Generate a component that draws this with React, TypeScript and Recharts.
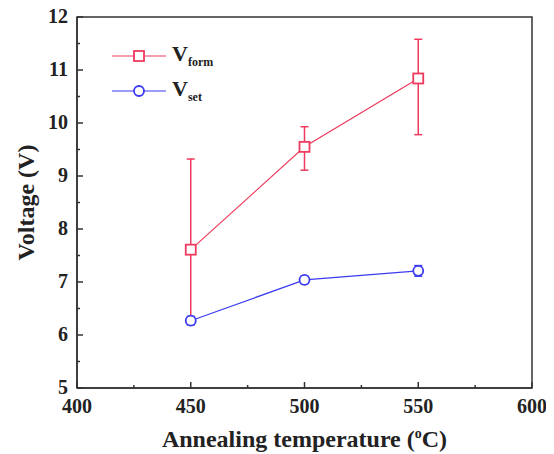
import React from 'react';
import { LineChart, Line, XAxis, YAxis, ErrorBar, Legend, ReferenceArea } from 'recharts';

const temps = [450, 500, 550];
const vform = [7.61, 9.55, 10.84];
const vformErrLow = [1.3, 0.44, 1.06];
const vformErrHigh = [1.71, 0.38, 0.74];
const vset = [6.27, 7.04, 7.21];
const vsetErr = [0.08, 0.07, 0.1];

const xTicks = [400, 425, 450, 475, 500, 525, 550, 575, 600];
const yTicks = [5, 5.5, 6, 6.5, 7, 7.5, 8, 8.5, 9, 9.5, 10, 10.5, 11, 11.5, 12];

const RED = '#ee3a5e';
const BLUE = '#3b3bef';
const FONT = '"Liberation Serif", "Times New Roman", serif';

const data = temps.map((t, i) => ({
  t,
  vform: vform[i],
  formErr: [vformErrLow[i], vformErrHigh[i]],
  vset: vset[i],
  setErr: vsetErr[i],
}));

const XTick = (p: any) => {
  const v = p.payload.value;
  const major = v % 50 === 0;
  return (
    <g>
      <line x1={p.x} y1={p.y} x2={p.x} y2={p.y - (major ? 6 : 3)} stroke="#333" strokeWidth={1.5} />
      {major && (
        <text x={p.x} y={p.y + 25} textAnchor="middle" fontFamily={FONT} fontWeight="bold" fontSize={20} fill="#222">
          {v}
        </text>
      )}
    </g>
  );
};

const YTick = (p: any) => {
  const v = p.payload.value;
  const major = Number.isInteger(v);
  return (
    <g>
      <line x1={p.x} y1={p.y} x2={p.x + (major ? 6 : 3)} y2={p.y} stroke="#333" strokeWidth={1.5} />
      {major && (
        <text x={p.x - 9} y={p.y - 1} dy="0.35em" textAnchor="end" fontFamily={FONT} fontWeight="bold" fontSize={20} fill="#222">
          {v}
        </text>
      )}
    </g>
  );
};

const Square = (p: any) => (
  <rect key={'s' + p.index} x={p.cx - 5} y={p.cy - 5} width={10} height={10} fill="#fff" stroke={RED} strokeWidth={1.8} />
);
const Circle = (p: any) => (
  <circle key={'c' + p.index} cx={p.cx} cy={p.cy} r={5} fill="#fff" stroke={BLUE} strokeWidth={1.8} />
);

const LegendBox = (props: any) => {
  const items = props.payload || [];
  return (
    <div style={{ fontFamily: FONT, fontWeight: 'bold', color: '#222' }}>
      {items.map((it: any) => {
        const [main, sub] = String(it.value).split('_');
        const isForm = sub === 'form';
        return (
          <div key={it.value} style={{ display: 'flex', alignItems: 'center', height: 35 }}>
            <svg width={54} height={14}>
              <line x1={0} y1={7} x2={54} y2={7} stroke={it.color} strokeWidth={1.2} />
              {isForm ? (
                <rect x={22} y={2} width={10} height={10} fill="#fff" stroke={it.color} strokeWidth={1.8} />
              ) : (
                <circle cx={27} cy={7} r={5} fill="#fff" stroke={it.color} strokeWidth={1.8} />
              )}
            </svg>
            <span style={{ fontSize: 22, marginLeft: 6 }}>
              {main}
              <sub style={{ fontSize: 12 }}>{sub}</sub>
            </span>
          </div>
        );
      })}
    </div>
  );
};

export default function App() {
  return (
    <div style={{ margin: '-8px 0 0 -8px' }}>
      <LineChart width={554} height={454} data={data} margin={{ top: 17, right: 22, left: 0, bottom: 0 }}>
        <ReferenceArea x1={400} x2={600} y1={5} y2={12} fill="none" stroke="#333" strokeWidth={1.5} />
        <XAxis
          dataKey="t"
          type="number"
          domain={[400, 600]}
          ticks={xTicks}
          interval={0}
          height={66}
          tickSize={0}
          tickMargin={0}
          tick={<XTick />}
          tickLine={false}
          axisLine={{ stroke: '#333', strokeWidth: 1.5 }}
          label={{
            content: (lp: any) => (
              <text x={lp.viewBox.x + lp.viewBox.width / 2} y={lp.viewBox.y + 59} textAnchor="middle" fontFamily={FONT} fontWeight="bold" fontSize={24} fill="#222">
                Annealing temperature (<tspan fontSize={14} dy={-9}>o</tspan><tspan dy={9}>C)</tspan>
              </text>
            ),
          }}
        />
        <YAxis
          type="number"
          domain={[5, 12]}
          ticks={yTicks}
          interval={0}
          width={77}
          tickSize={0}
          tickMargin={0}
          tick={<YTick />}
          tickLine={false}
          axisLine={{ stroke: '#333', strokeWidth: 1.5 }}
          label={{
            content: (lp: any) => {
              const cx = 26;
              const cy = lp.viewBox.y + lp.viewBox.height / 2;
              return (
                <text x={cx} y={cy} transform={`rotate(-90 ${cx} ${cy})`} textAnchor="middle" dy="0.35em" fontFamily={FONT} fontWeight="bold" fontSize={24} fill="#222">
                  Voltage (V)
                </text>
              );
            },
          }}
        />
        <Legend
          layout="vertical"
          align="center"
          verticalAlign="middle"
          content={<LegendBox />}
          wrapperStyle={{ position: 'absolute', left: 112, top: 38, width: 'auto', height: 'auto' }}
        />
        <Line
          dataKey="vform"
          name="V_form"
          stroke={RED}
          strokeWidth={1.2}
          dot={Square}
          activeDot={false}
          isAnimationActive={false}
        >
          <ErrorBar dataKey="formErr" width={4} stroke={RED} strokeWidth={1.5} direction="y" isAnimationActive={false} />
        </Line>
        <Line
          dataKey="vset"
          name="V_set"
          stroke={BLUE}
          strokeWidth={1.2}
          dot={Circle}
          activeDot={false}
          isAnimationActive={false}
        >
          <ErrorBar dataKey="setErr" width={4} stroke={BLUE} strokeWidth={1.5} direction="y" isAnimationActive={false} />
        </Line>
      </LineChart>
    </div>
  );
}
